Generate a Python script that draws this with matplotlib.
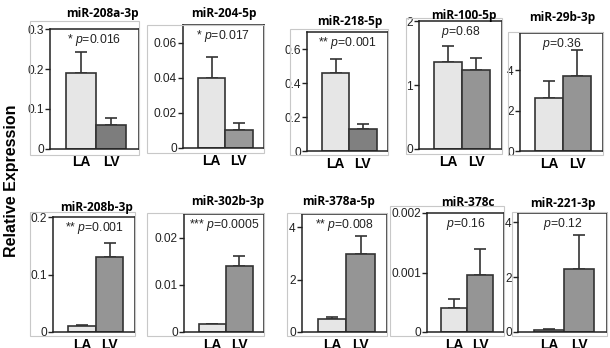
import matplotlib
matplotlib.use("Agg")
import matplotlib.pyplot as plt
from matplotlib.patches import Rectangle
from matplotlib.ticker import FuncFormatter

plt.rcParams['font.family'] = ['Liberation Sans', 'DejaVu Sans']
plt.rcParams['mathtext.fontset'] = 'custom'
plt.rcParams['mathtext.it'] = 'Liberation Sans:italic'
plt.rcParams['mathtext.rm'] = 'Liberation Sans'

# ---------------- data ----------------
groups = ["LA", "LV"]
titles = ["miR-208a-3p", "miR-204-5p", "miR-218-5p", "miR-100-5p", "miR-29b-3p",
          "miR-208b-3p", "miR-302b-3p", "miR-378a-5p", "miR-378c", "miR-221-3p"]
stars = ["*", "*", "**", "", "", "**", "***", "**", "", ""]
pvalues = ["0.016", "0.017", "0.001", "0.68", "0.36",
           "0.001", "0.0005", "0.008", "0.16", "0.12"]
la_mean = [0.19, 0.040, 0.46, 1.36, 2.65, 0.010, 0.0016, 0.50, 0.00041, 0.08]
la_sem = [0.052, 0.012, 0.08, 0.25, 0.80, 0.002, 0.0002, 0.09, 0.00015, 0.03]
lv_mean = [0.060, 0.010, 0.13, 1.24, 3.72, 0.130, 0.0140, 2.97, 0.00096, 2.28]
lv_sem = [0.018, 0.004, 0.03, 0.18, 1.30, 0.024, 0.0022, 0.70, 0.00044, 1.24]
ytop = [0.3, 0.07, 0.7, 2.0, 5.85, 0.2, 0.025, 4.5, 0.002, 4.33]
yticks = [[0, 0.1, 0.2, 0.3], [0, 0.02, 0.04, 0.06], [0, 0.2, 0.4, 0.6], [0, 1, 2], [0, 2, 4],
          [0, 0.1, 0.2], [0, 0.01, 0.02], [0, 2, 4], [0, 0.001, 0.002], [0, 2, 4]]

# ---------------- layout (pixels) ----------------
W, H = 610, 348
axes_px = [(50, 29, 139, 149), (183, 25, 264, 148), (307, 32, 388, 151),
           (419, 21, 502, 149), (520, 33, 603, 151),
           (53, 217, 135, 332), (184, 214, 264, 332), (302, 214, 387, 332),
           (427, 213, 504, 332), (518, 213, 607, 332)]
frame_px = [(30, 21, 139, 155), (147, 25, 264, 153), (290, 29, 388, 155),
            (406, 18, 502, 154), (508, 32, 603, 155),
            (30, 212, 135, 336), (147, 213, 264, 336), (287, 213, 387, 336),
            (390, 206, 504, 336), (512, 212, 607, 336)]
title_px = [(102, 14), (224, 14), (350, 21), (464, 15), (562, 17),
            (97, 207), (228, 202), (339, 202), (468, 202), (563, 203)]
lv_colors = ["#7d7d7d", "#999999", "#808080", "#959595", "#959595",
             "#959595", "#959595", "#959595", "#959595", "#959595"]
la_color = "#e6e6e6"
edge = "#333333"

fig = plt.figure(figsize=(W / 100, H / 100), dpi=100)


def fx(x):
    return x / W


def fy(y):
    return 1 - y / H


fmt = FuncFormatter(lambda v, p: "0" if v == 0 else ("%g" % v))

for i in range(10):
    fl, ft, fr, fb = frame_px[i]
    fig.patches.append(Rectangle((fx(fl), fy(fb)), fx(fr) - fx(fl), fy(ft) - fy(fb),
                                 transform=fig.transFigure, fill=False,
                                 edgecolor="#c8c8c8", linewidth=0.8, zorder=0))
    l, t, r, b = axes_px[i]
    ax = fig.add_axes([fx(l), fy(b), fx(r) - fx(l), fy(t) - fy(b)])
    ax.set_facecolor("none")
    xs = [0, 1]
    means = [la_mean[i], lv_mean[i]]
    errs = [la_sem[i], lv_sem[i]]
    ax.bar(xs, means, width=1.0, color=[la_color, lv_colors[i]], edgecolor=edge,
           linewidth=1.2, zorder=2)
    ax.errorbar(xs, means, yerr=[[0, 0], errs], fmt="none", ecolor=edge,
                elinewidth=1.2, capsize=4.5, capthick=1.2, zorder=1)
    ax.set_xlim(-1.05, 1.92)
    ax.set_ylim(0, ytop[i])
    ax.set_yticks(yticks[i])
    ax.yaxis.set_major_formatter(fmt)
    ax.set_xticks(xs)
    ax.set_xticklabels(groups, fontsize=10, fontweight="bold")
    ax.tick_params(axis="x", length=0, pad=4)
    ax.tick_params(axis="y", length=3.5, width=1.0, direction="out", pad=1, labelsize=8.6,
                   colors="#222222")
    for s in ax.spines.values():
        s.set_linewidth(1.1)
        s.set_color("#222222")
    label = (stars[i] + " " if stars[i] else "") + r"$\mathit{p}$=" + pvalues[i]
    ax.annotate(label, xy=(0.5, 1.0), xycoords="axes fraction",
                xytext=(0, -8), textcoords="offset points",
                ha="center", va="center", fontsize=8.8, color="#222222")
    tx, ty = title_px[i]
    fig.text(fx(tx), fy(ty), titles[i], ha="center", va="center",
             fontsize=8.6, fontweight="bold", family=["Open Sans", "DejaVu Sans"])

fig.text(fx(12), fy(181), "Relative Expression", rotation=90, ha="center",
         va="center", fontsize=11.5, fontweight="bold")

fig.savefig("out.png", dpi=100)
